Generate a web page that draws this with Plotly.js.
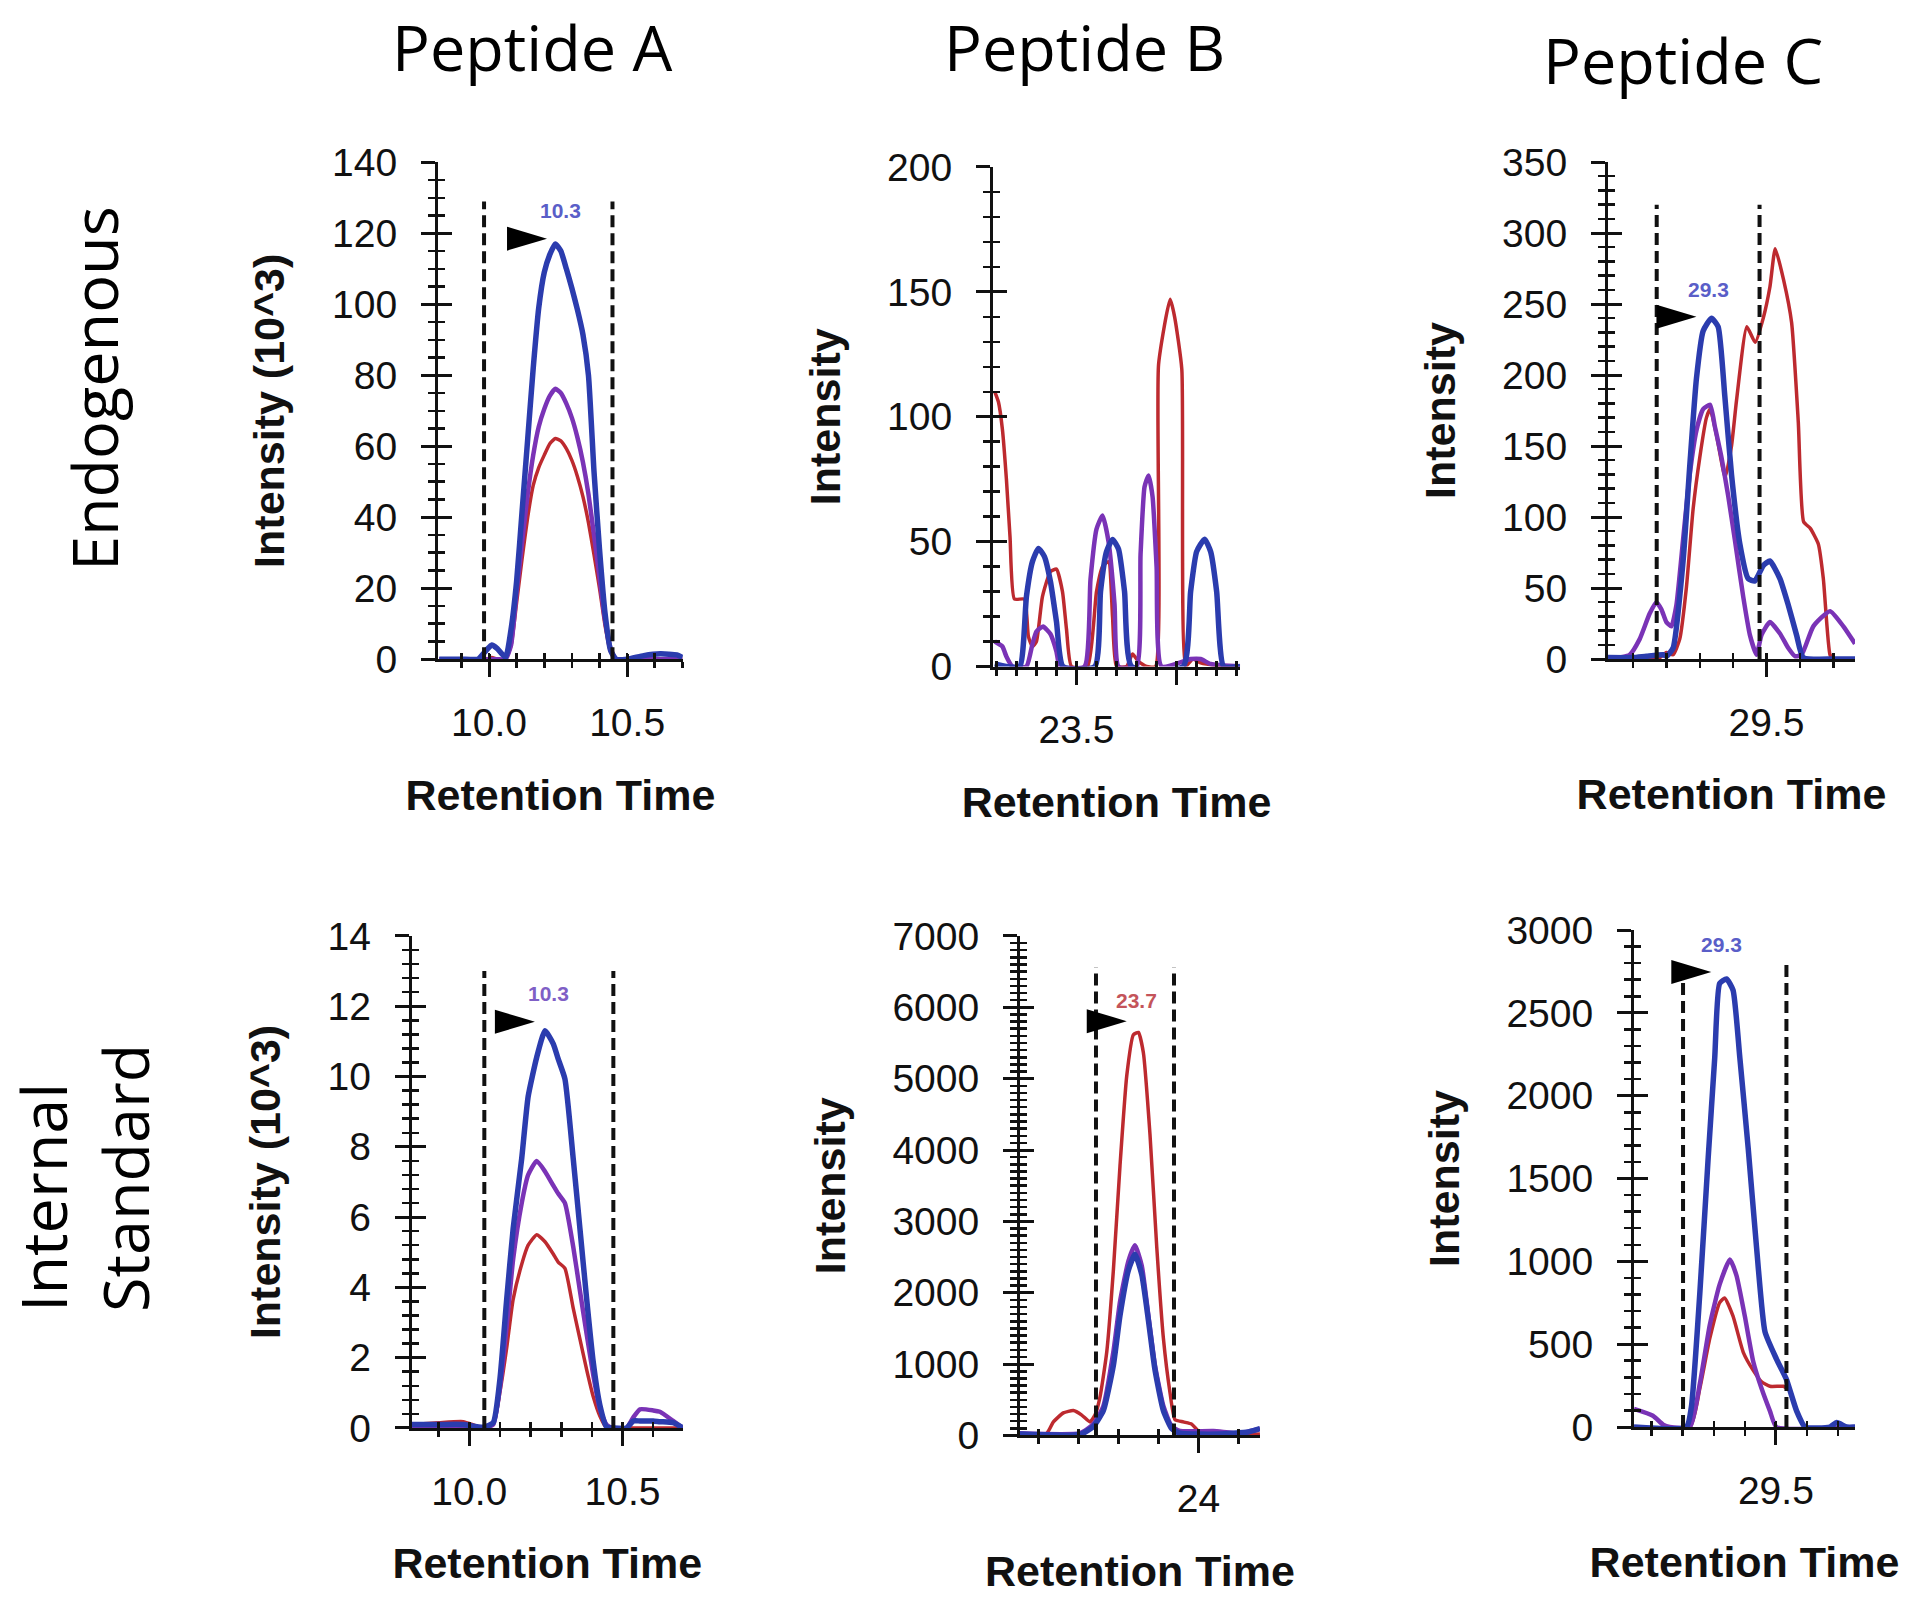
<!DOCTYPE html>
<html><head><meta charset="utf-8">
<script src="https://cdn.plot.ly/plotly-3.0.1.min.js"></script>
<style>html,body{margin:0;padding:0;background:#fff}#chart{width:1914px;height:1598px}</style>
</head><body><div id="chart"></div>
<script>
// ---------------- DATA ----------------
const columnLabels = ['Peptide A', 'Peptide B', 'Peptide C'];
const rowLabels = ['Endogenous', 'Internal<br>Standard'];
const xTitle = 'Retention Time';

// Peptide A - endogenous (intensity in 10^3)
const aEndoTime   = [9.82, 9.90, 9.96, 9.99, 10.01, 10.03, 10.06, 10.08, 10.10, 10.12, 10.14, 10.16, 10.18, 10.20, 10.22, 10.24, 10.26, 10.28, 10.30, 10.32, 10.34, 10.36, 10.38, 10.40, 10.42, 10.44, 10.46, 10.50, 10.56, 10.62, 10.68, 10.70];
const aEndoRed    = [0, 0, 0, 0, 0.5, 0, 0, 4, 16, 28.5, 40, 49, 54, 57.5, 60.7, 62.2, 61.5, 59.3, 56, 51.5, 45.8, 38.5, 29.5, 20, 9.5, 2, 0, 0, 0, 0, 0, 0];
const aEndoPurple = [0, 0, 0, 0, 0, 0, 0, 4, 19, 33, 46.5, 57.5, 65.5, 70.5, 74.2, 76.2, 75, 72, 68, 62.5, 55.5, 46.5, 35, 23, 11, 3, 0, 0, 0, 0, 0, 0];
const aEndoBlue   = [0, 0, 0, 2.5, 4, 3, 0.5, 8.5, 22, 42, 62, 82, 99, 109, 114, 117, 115, 110, 104.5, 98.5, 91.5, 80, 53, 31, 13, 2.5, 0, 0, 1, 1.5, 1.2, 0.5];

// Peptide A - internal standard (intensity in 10^3)
const aStdTime   = [9.812, 9.90, 9.98, 10.046, 10.078, 10.10, 10.122, 10.143, 10.171, 10.192, 10.22, 10.247, 10.274, 10.29, 10.312, 10.339, 10.361, 10.383, 10.404, 10.426, 10.448, 10.47, 10.513, 10.535, 10.557, 10.60, 10.622, 10.665, 10.697];
const aStdRed    = [0.1, 0.15, 0.18, 0, 0.1, 1.03, 2.28, 3.66, 4.66, 5.2, 5.5, 5.3, 4.95, 4.72, 4.54, 3.41, 2.53, 1.65, 0.9, 0.34, 0, 0, 0, 0, 0, 0, 0, 0, 0];
const aStdPurple = [0, 0, 0, 0, 0.1, 1.15, 2.9, 4.8, 6.4, 7.2, 7.6, 7.3, 6.9, 6.67, 6.4, 5.16, 3.9, 2.66, 1.53, 0.53, 0.09, 0, 0, 0.3, 0.53, 0.5, 0.46, 0.2, 0];
const aStdBlue   = [0.1, 0.1, 0.1, 0.02, 0.15, 1.4, 3.66, 5.67, 7.67, 9.43, 10.55, 11.3, 10.93, 10.5, 9.93, 7.67, 5.67, 3.66, 1.9, 0.65, 0.03, 0, 0, 0.2, 0.2, 0.2, 0.18, 0.15, 0];

// Peptide B - endogenous
const bEndoRedTime    = [23.092, 23.11, 23.13, 23.15, 23.168, 23.19, 23.24, 23.26, 23.28, 23.30, 23.33, 23.37, 23.40, 23.43, 23.45, 23.475, 23.555, 23.60, 23.63, 23.66, 23.68, 23.70, 23.75, 23.78, 23.81, 23.85, 23.895, 23.91, 23.968, 23.99, 24.026, 24.045, 24.08, 24.12, 24.20, 24.317];
const bEndoRed        = [110, 106, 95, 75, 52, 27, 27, 12, 8, 10, 28, 38, 39, 30, 15, 0, 0, 30, 40, 42, 20, 0, 0, 5, 2, 0, 0, 121, 147, 140, 119, 0, 3, 1.5, 0.5, 0];
const bEndoPurpleTime = [23.092, 23.13, 23.15, 23.18, 23.25, 23.28, 23.30, 23.333, 23.37, 23.40, 23.417, 23.54, 23.57, 23.60, 23.63, 23.66, 23.69, 23.71, 23.80, 23.82, 23.84, 23.86, 23.88, 23.90, 23.925, 24.07, 24.12, 24.17, 24.317];
const bEndoPurple     = [10, 8, 4, 0, 0, 9, 14, 16, 13, 6, 0, 0, 35, 55, 60.5, 50, 25, 0, 0, 45, 72, 76.5, 68, 40, 0, 3, 3, 1, 0];
const bEndoBlueTime   = [23.092, 23.15, 23.217, 23.25, 23.28, 23.31, 23.34, 23.37, 23.40, 23.433, 23.592, 23.62, 23.65, 23.68, 23.71, 23.74, 23.775, 24.033, 24.07, 24.10, 24.14, 24.17, 24.20, 24.235, 24.317];
const bEndoBlue       = [1, 0, 0, 28, 42, 47.3, 44, 34, 18, 0, 0, 30, 46, 50.9, 47, 30, 0, 0, 30, 46, 51, 46, 30, 0, 0];

// Peptide B - internal standard
const bStdRedTime    = [23.108, 23.242, 23.275, 23.325, 23.375, 23.417, 23.458, 23.483, 23.508, 23.542, 23.575, 23.608, 23.642, 23.675, 23.70, 23.725, 23.758, 23.792, 23.825, 23.858, 23.883, 23.925, 23.967, 24.0, 24.058, 24.15, 24.308];
const bStdRed        = [19, 32, 190, 317, 349, 286, 190, 286, 539, 1174, 2317, 3776, 5045, 5616, 5648, 5363, 4220, 2634, 1364, 603, 222, 190, 159, 63, 32, 0, 20];
const bStdPurpleTime = [23.108, 23.408, 23.475, 23.525, 23.575, 23.608, 23.65, 23.683, 23.717, 23.75, 23.783, 23.825, 23.867, 23.908, 24.075, 24.208, 24.308];
const bStdPurple     = [30, 32, 159, 413, 1174, 1872, 2443, 2665, 2380, 1681, 984, 413, 127, 63, 63, 32, 95];
const bStdBlueTime   = [23.108, 23.408, 23.475, 23.525, 23.575, 23.608, 23.65, 23.683, 23.717, 23.75, 23.783, 23.825, 23.867, 23.908, 24.10, 24.25, 24.308];
const bStdBlue       = [20, 15, 127, 349, 984, 1681, 2317, 2539, 2253, 1618, 920, 349, 95, 32, 20, 50, 95];

// Peptide C - endogenous
const cEndoRedTime    = [29.025, 29.16, 29.18, 29.20, 29.22, 29.24, 29.26, 29.28, 29.30, 29.32, 29.331, 29.35, 29.376, 29.395, 29.41, 29.441, 29.466, 29.49, 29.51, 29.526, 29.551, 29.575, 29.595, 29.611, 29.631, 29.655, 29.67, 29.69, 29.70, 29.765];
const cEndoRed        = [0, 0, 1, 4.6, 3, 14, 50.5, 105.6, 142, 170, 176, 157.7, 128, 150, 182, 234, 223, 240, 262, 289, 267, 237, 167, 96.7, 92, 81, 56.6, 3, 0, 0];
const cEndoPurpleTime = [29.025, 29.09, 29.12, 29.15, 29.17, 29.185, 29.20, 29.215, 29.23, 29.25, 29.27, 29.29, 29.31, 29.331, 29.345, 29.365, 29.385, 29.405, 29.43, 29.45, 29.47, 29.485, 29.51, 29.54, 29.565, 29.585, 29.605, 29.64, 29.69, 29.73, 29.765];
const cEndoPurple     = [0, 3, 14, 32, 40, 35, 26, 23, 38, 84, 130, 161, 176, 179, 164, 142, 115, 84, 44, 17, 3, 17, 26, 18, 7.7, 2, 3, 23, 33.7, 23, 10.7];
const cEndoBlueTime   = [29.025, 29.10, 29.14, 29.19, 29.20, 29.22, 29.25, 29.27, 29.29, 29.31, 29.335, 29.355, 29.375, 29.395, 29.42, 29.445, 29.465, 29.49, 29.51, 29.54, 29.565, 29.59, 29.61, 29.70, 29.765];
const cEndoBlue       = [1, 1, 2, 3, 2, 7.7, 69, 136, 197.5, 231, 240, 234, 185, 130, 81, 56.6, 55, 65.8, 69, 56.6, 38, 16.8, 1, 0, 0];

// Peptide C - internal standard
const cStdRedTime    = [29.043, 29.223, 29.255, 29.287, 29.319, 29.335, 29.362, 29.395, 29.427, 29.454, 29.481, 29.524, 29.536];
const cStdRed        = [0, 0, 232, 533, 751, 779, 669, 451, 342, 273, 246, 246, 232];
const cStdPurpleTime = [29.043, 29.104, 29.137, 29.158, 29.223, 29.255, 29.287, 29.319, 29.352, 29.373, 29.40, 29.427, 29.454, 29.481, 29.502, 29.755];
const cStdPurple     = [109, 68, 14, 0, 0, 260, 615, 861, 1011, 915, 669, 396, 232, 96, 0, 0];
const cStdBlueTime   = [29.043, 29.212, 29.228, 29.255, 29.282, 29.303, 29.319, 29.341, 29.362, 29.384, 29.411, 29.438, 29.465, 29.502, 29.534, 29.567, 29.594, 29.674, 29.696, 29.728, 29.755];
const cStdBlue       = [0, 0, 123, 806, 1626, 2227, 2678, 2705, 2637, 2227, 1680, 1079, 574, 410, 287, 96, 0, 0, 27, 0, 0];

// Integration boundaries (retention time) and their top (intensity)
const aEndoBounds = [9.982, 10.447], aEndoBoundTop = 129;
const aStdBounds  = [10.049, 10.47], aStdBoundTop  = 13;
const bStdBounds  = [23.488, 23.878], bStdBoundTop = 6560;
const cEndoBounds = [29.171, 29.479], cEndoBoundTop = 320;
const cStdBounds  = [29.201, 29.534], cStdBoundTop  = 2800;

// Apex pointers: [arrow tip time, arrow tip intensity, label time, label intensity]
const aEndoApex = [10.21, 118.5, 10.26, 126.5],  aEndoApexText = '10.3';
const aStdApex  = [10.214, 11.56, 10.258, 12.35], aStdApexText  = '10.3';
const bStdApex  = [23.642, 5806, 23.692, 6100],  bStdApexText  = '23.7';
const cEndoApex = [29.29, 241, 29.326, 260],     cEndoApexText = '29.3';
const cStdApex  = [29.292, 2746, 29.325, 2910],  cStdApexText  = '29.3';

// ---------------- STYLE / LAYOUT ----------------
const RED = '#bd2a2f', PURPLE = '#7a33b6', BLUE = '#2b3cae';
const FONT = '"Liberation Sans", Arial, Helvetica, sans-serif';
const LABELFONT = '"Open Sans", "Noto Sans", sans-serif';
const INK = '#111111';

const panels = [
  { id: '', xdom: [0.2288, 0.3568], ydom: [0.5875, 0.8984], xr: [9.815, 10.702], yr: [0, 140],
    xtv: [10.0, 10.5], xtt: ['10.0', '10.5'], xmin: 0.1, xmin0: 10, ydt: 20, ymin: 5, ytitle: 'Intensity (10^3)',
    series: [[aEndoTime, aEndoRed], [aEndoTime, aEndoPurple], [aEndoTime, aEndoBlue]],
    bounds: aEndoBounds, btop: aEndoBoundTop, apex: aEndoApex, apexText: aEndoApexText, apexColor: '#5a5ec8' },
  { id: '2', xdom: [0.5188, 0.6479], ydom: [0.5829, 0.8955], xr: [23.083, 24.317], yr: [0, 200],
    xtv: [23.5, 24.0], xtt: ['23.5', ''], xmin: 0.1, xmin0: 23, ydt: 50, ymin: 10, ytitle: 'Intensity',
    series: [[bEndoRedTime, bEndoRed], [bEndoPurpleTime, bEndoPurple], [bEndoBlueTime, bEndoBlue]] },
  { id: '3', xdom: [0.8401, 0.9692], ydom: [0.5876, 0.8986], xr: [29.025, 29.765], yr: [0, 350],
    xtv: [29.5], xtt: ['29.5'], xmin: 0.1, xmin0: 29, ydt: 50, ymin: 10, ytitle: 'Intensity',
    series: [[cEndoRedTime, cEndoRed], [cEndoPurpleTime, cEndoPurple], [cEndoBlueTime, cEndoBlue]],
    bounds: cEndoBounds, btop: cEndoBoundTop, apex: cEndoApex, apexText: cEndoApexText, apexColor: '#5a5ec8' },
  { id: '4', xdom: [0.2151, 0.3568], ydom: [0.1064, 0.4143], xr: [9.812, 10.697], yr: [0, 14],
    xtv: [10.0, 10.5], xtt: ['10.0', '10.5'], xmin: 0.1, xmin0: 10, ydt: 2, ymin: 0.4, ytitle: 'Intensity (10^3)',
    series: [[aStdTime, aStdRed], [aStdTime, aStdPurple], [aStdTime, aStdBlue]],
    bounds: aStdBounds, btop: aStdBoundTop, apex: aStdApex, apexText: aStdApexText, apexColor: '#7f5fc6' },
  { id: '5', xdom: [0.5329, 0.6583], ydom: [0.1017, 0.4143], xr: [23.108, 24.308], yr: [0, 7000],
    xtv: [24], xtt: ['24'], xmin: 0.2, xmin0: 24, ydt: 1000, ymin: 100, ytitle: 'Intensity',
    series: [[bStdRedTime, bStdRed], [bStdPurpleTime, bStdPurple], [bStdBlueTime, bStdBlue]],
    bounds: bStdBounds, btop: bStdBoundTop, apex: bStdApex, apexText: bStdApexText, apexColor: '#c4545a' },
  { id: '6', xdom: [0.8537, 0.9692], ydom: [0.1070, 0.4180], xr: [29.043, 29.755], yr: [0, 3000],
    xtv: [29.5], xtt: ['29.5'], xmin: 0.1, xmin0: 29, ydt: 500, ymin: 100, ytitle: 'Intensity',
    series: [[cStdRedTime, cStdRed], [cStdPurpleTime, cStdPurple], [cStdBlueTime, cStdBlue]],
    bounds: cStdBounds, btop: cStdBoundTop, apex: cStdApex, apexText: cStdApexText, apexColor: '#5a5ec8' }
];

const lineStyles = [
  { color: RED, width: 3.5 },
  { color: PURPLE, width: 4.5 },
  { color: BLUE, width: 5.5 }
];

const traces = [];
const layout = {
  width: 1914, height: 1598,
  margin: { l: 0, r: 0, t: 0, b: 0 },
  paper_bgcolor: '#ffffff', plot_bgcolor: 'rgba(0,0,0,0)',
  showlegend: false, hovermode: false,
  annotations: [], shapes: []
};

const tickFont = { family: FONT, size: 39, color: INK };
const titleFont = { family: FONT, size: 43, color: INK, weight: 'bold' };

panels.forEach((p, i) => {
  const xa = 'x' + p.id, ya = 'y' + p.id;
  const oxId = 'x' + (i + 7), oyId = 'y' + (i + 7);
  p.series.forEach((s, k) => {
    traces.push({
      type: 'scatter', mode: 'lines', x: s[0], y: s[1],
      xaxis: xa, yaxis: ya,
      line: { color: lineStyles[k].color, width: lineStyles[k].width, shape: 'spline', smoothing: 0.5 },
      hoverinfo: 'skip'
    });
  });
  // empty trace so that the overlay (inner tick) axes get a subplot
  traces.push({ type: 'scatter', mode: 'lines', x: [], y: [], xaxis: oxId, yaxis: oyId, hoverinfo: 'skip', showlegend: false });

  // main axes
  layout['xaxis' + p.id] = {
    domain: p.xdom, range: p.xr, anchor: ya,
    showgrid: false, zeroline: false, showline: true, linecolor: INK, linewidth: 3,
    tickmode: 'array', tickvals: p.xtv, ticktext: p.xtt,
    ticks: 'outside', ticklen: 15, tickwidth: 3, tickcolor: INK,
    minor: { ticks: 'outside', ticklen: 6, tickwidth: 2.5, tickcolor: INK, dtick: p.xmin, tick0: p.xmin0, showgrid: false },
    tickfont: tickFont, ticklabelstandoff: 12,
    title: { text: xTitle, font: titleFont, standoff: 37 }
  };
  layout['yaxis' + p.id] = {
    domain: p.ydom, range: p.yr, anchor: xa,
    showgrid: false, zeroline: false, showline: true, linecolor: INK, linewidth: 3,
    tickmode: 'linear', tick0: 0, dtick: p.ydt,
    ticks: 'outside', ticklen: 14, tickwidth: 3, tickcolor: INK,
    minor: { ticks: 'outside', ticklen: 7, tickwidth: 2.5, tickcolor: INK, dtick: p.ymin, tick0: 0, showgrid: false },
    tickfont: tickFont, ticklabelstandoff: 16,
    title: { text: p.ytitle, font: titleFont, standoff: 34 }
  };
  // overlay axes giving crossing ticks on the inside
  layout['xaxis' + (i + 7)] = {
    overlaying: xa, anchor: oyId, range: p.xr,
    showgrid: false, zeroline: false, showline: false, showticklabels: false,
    tickmode: 'array', tickvals: p.xtv,
    ticks: 'inside', ticklen: 5, tickwidth: 3, tickcolor: INK,
    minor: { ticks: 'inside', ticklen: 6, tickwidth: 2.5, tickcolor: INK, dtick: p.xmin, tick0: p.xmin0, showgrid: false }
  };
  layout['yaxis' + (i + 7)] = {
    overlaying: ya, anchor: oxId, side: 'left', range: p.yr,
    showgrid: false, zeroline: false, showline: false, showticklabels: false,
    tickmode: 'linear', tick0: 0, dtick: p.ydt,
    ticks: 'inside', ticklen: 14, tickwidth: 3, tickcolor: INK,
    minor: { ticks: 'inside', ticklen: 7, tickwidth: 2.5, tickcolor: INK, dtick: p.ymin, tick0: 0, showgrid: false }
  };

  // integration boundaries
  if (p.bounds) {
    p.bounds.forEach(b => {
      layout.shapes.push({ type: 'line', xref: xa, yref: ya, x0: b, x1: b, y0: 0, y1: p.btop,
        line: { color: INK, width: 4, dash: '12px,6px' } });
    });
  }
  // apex pointer + label
  if (p.apex) {
    layout.shapes.push({ type: 'path', xref: xa, yref: ya, xsizemode: 'pixel', ysizemode: 'pixel',
      xanchor: p.apex[0], yanchor: p.apex[1], path: 'M 0 0 L -40 -12 L -40 12 Z',
      fillcolor: '#000000', line: { width: 0 } });
    layout.annotations.push({ xref: xa, yref: ya, x: p.apex[2], y: p.apex[3], text: p.apexText, showarrow: false,
      font: { family: FONT, size: 21, color: p.apexColor, weight: 'bold' }, xanchor: 'center', yanchor: 'middle' });
  }
});

// column headers
const colX = [0.278, 0.5664, 0.8795], colY = [0.9706, 0.9706, 0.963];
columnLabels.forEach((t, i) => layout.annotations.push({
  xref: 'paper', yref: 'paper', x: colX[i], y: colY[i], text: t, showarrow: false,
  font: { family: LABELFONT, size: 63, color: '#000' }, xanchor: 'center', yanchor: 'middle'
}));
// row headers
const rowX = [0.049, 0.0434], rowY = [0.757, 0.2628];
rowLabels.forEach((t, i) => layout.annotations.push({
  xref: 'paper', yref: 'paper', x: rowX[i], y: rowY[i], text: t, showarrow: false, textangle: -90, align: 'left',
  font: { family: LABELFONT, size: 63, color: '#000' }, xanchor: 'center', yanchor: 'middle'
}));

Plotly.newPlot('chart', traces, layout, { staticPlot: true, displayModeBar: false });
</script>
</body></html>
